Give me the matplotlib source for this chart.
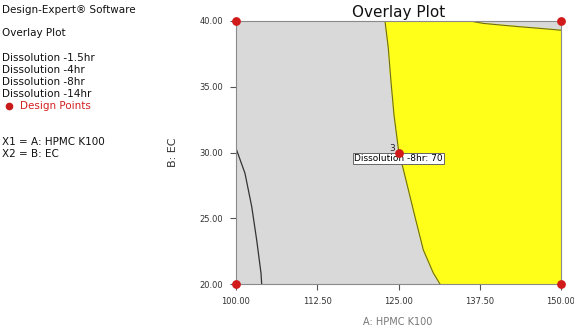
import matplotlib
matplotlib.use("Agg")
import matplotlib.pyplot as plt
from matplotlib.lines import Line2D
from matplotlib.ticker import FormatStrFormatter

# ---- data ----
x_ticks = [100.0, 112.5, 125.0, 137.5, 150.0]
y_ticks = [20.0, 25.0, 30.0, 35.0, 40.0]

# Left boundary of the yellow (feasible) region: x as function of y
yellow_left_y = [20.0, 20.84, 22.59, 25.10, 27.68, 30.2, 32.85, 35.36, 37.95, 40.0]
yellow_left_x = [131.38, 130.35, 128.82, 127.54, 126.26, 125.0, 124.31, 123.85, 123.43, 122.92]
# Upper boundary of the yellow region near top-right
yellow_top_x = [136.0, 138.0, 141.0, 144.0, 147.0, 150.0]
yellow_top_y = [40.0, 39.82, 39.68, 39.55, 39.43, 39.3]

# Dissolution contour at the lower-left
contour_x = [100.0, 101.38, 102.42, 103.18, 103.85, 103.95]
contour_y = [30.32, 28.42, 25.88, 23.35, 20.81, 20.0]

# Design points
design_x = [100.0, 100.0, 150.0, 150.0, 125.0]
design_y = [20.0, 40.0, 20.0, 40.0, 30.0]
center_label = "3"
flag_text = "Dissolution -8hr: 70"

info_lines = ["Design-Expert\u00ae Software", "Overlay Plot",
              "Dissolution -1.5hr", "Dissolution -4hr",
              "Dissolution -8hr", "Dissolution -14hr"]

fig = plt.figure(figsize=(5.74, 3.30), dpi=100)
ax = fig.add_axes([236/574, 1-284/330, (561-236)/574, (284-21)/330])
ax.set_facecolor("#d9d9d9")
ax.set_xlim(100, 150)
ax.set_ylim(20, 40)

# yellow region polygon
px = list(yellow_left_x) + list(yellow_top_x) + [150.0]
py = list(yellow_left_y) + list(yellow_top_y) + [20.0]
ax.fill(px, py, color="#ffff1a", zorder=1)
ax.plot(yellow_left_x, yellow_left_y, color="#6b6b20", lw=0.8, zorder=2)
ax.plot(yellow_top_x, yellow_top_y, color="#6b6b20", lw=0.8, zorder=2)
ax.plot(contour_x, contour_y, color="#333333", lw=0.9, zorder=2)

ax.text(124.5, 29.95, center_label, fontsize=6.5, ha="right", va="bottom", color="#222222", zorder=6)
ax.text(125.0, 29.55, flag_text, fontsize=6.5, ha="center", va="center", zorder=6,
        bbox=dict(boxstyle="square,pad=0.15", fc="white", ec="#666666", lw=0.7))
ax.scatter(design_x, design_y, s=28, color="#d11a1a", zorder=8, clip_on=False)

ax.set_xticks(x_ticks)
ax.set_yticks(y_ticks)
ax.xaxis.set_major_formatter(FormatStrFormatter("%.2f"))
ax.yaxis.set_major_formatter(FormatStrFormatter("%.2f"))
ax.tick_params(direction="out", length=4, width=0.8, color="#555555",
               labelsize=6, labelcolor="#333333", pad=5)
for s in ax.spines.values():
    s.set_color("#8a8a8a")
    s.set_linewidth(0.8)

ax.set_title("Overlay Plot", fontsize=11, pad=3, color="#111111")
ax.set_ylabel("B: EC", fontsize=8, color="#333333", labelpad=16)
fig.text(398/574, 1-322/330, "A: HPMC K100", fontsize=7, color="#777777",
         ha="center", va="center")

ys = [10, 33, 58, 70, 82, 94]
for yy, t in zip(ys, info_lines):
    fig.text(2/574, 1-yy/330, t, fontsize=7.5, ha="left", va="center", color="#111111")
fig.add_artist(Line2D([9/574], [1-106/330], marker="o", markersize=4.5, color="#c81818",
                      linestyle="none", transform=fig.transFigure))
fig.text(20/574, 1-106/330, "Design Points", fontsize=7.5, ha="left", va="center", color="#d42020")
fig.text(2/574, 1-142/330, "X1 = A: HPMC K100", fontsize=7.5, ha="left", va="center", color="#111111")
fig.text(2/574, 1-154/330, "X2 = B: EC", fontsize=7.5, ha="left", va="center", color="#111111")

fig.savefig("out.png", dpi=100)
